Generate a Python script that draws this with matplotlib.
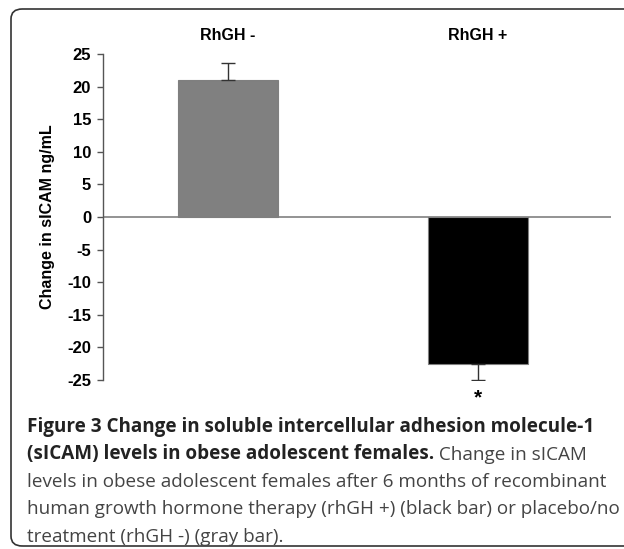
import matplotlib
matplotlib.use("Agg")
import matplotlib.pyplot as plt
from matplotlib.patches import FancyBboxPatch

# ---- data ----
groups = ["RhGH -", "RhGH +"]
values = [21.0, -22.6]
errors = [2.6, 2.4]
bar_colors = ["#808080", "#000000"]
yticks = [25, 20, 15, 10, 5, 0, -5, -10, -15, -20, -25]
ylabel = "Change in sICAM ng/mL"
signif = ["", "*"]

W, H = 624, 549
fig = plt.figure(figsize=(W / 100, H / 100), dpi=100)

# frame (rounded, open on the right)
frame = FancyBboxPatch((11 / W, 1 - 546 / H), (700 - 11) / W, (546 - 9) / H,
                       boxstyle="round,pad=0,rounding_size=0.018",
                       transform=fig.transFigure, fill=False,
                       edgecolor="#333333", linewidth=1.2, clip_on=False)
fig.patches.append(frame)

ax_l, ax_r, ax_t, ax_b = 103, 611, 54, 380
ax = fig.add_axes([ax_l / W, 1 - ax_b / H, (ax_r - ax_l) / W, (ax_b - ax_t) / H])
ax.set_facecolor("none")

x = list(range(len(groups)))
ax.bar(x, values, width=0.4, color=bar_colors, edgecolor="#7f7f7f", linewidth=0.8, zorder=2)
for xi, v, e in zip(x, values, errors):
    yerr = [[0], [e]] if v >= 0 else [[e], [0]]
    ax.errorbar([xi], [v], yerr=yerr, fmt="none", ecolor="#333333",
                elinewidth=1.0, capsize=4.7, capthick=1.0, zorder=3)

ax.axhline(0, color="#808080", linewidth=1.2, zorder=1)
ax.set_xlim(-0.5, 1.532)
ax.set_ylim(-25, 25)
ax.set_yticks(yticks)
ax.set_yticklabels([str(t) for t in yticks], fontfamily="Liberation Sans",
                   fontweight="bold", fontsize=12)
ax.set_xticks([])
for s in ["top", "right", "bottom"]:
    ax.spines[s].set_visible(False)
ax.spines["left"].set_color("#555555")
ax.spines["left"].set_linewidth(1.0)
ax.tick_params(axis="y", length=4, width=1.0, color="#555555", pad=4.5)

ax.set_ylabel(ylabel, fontfamily="Liberation Sans", fontweight="bold",
              fontsize=11.5, labelpad=9)

# group labels above
for xi, g in zip(x, groups):
    ax.text(xi, 1.058, g, transform=ax.get_xaxis_transform(), ha="center", va="center",
            fontfamily="Liberation Sans", fontweight="bold", fontsize=11.5)

# significance marks
for xi, v, e, s in zip(x, values, errors, signif):
    if s:
        ax.annotate(s, (xi, v - e), xytext=(0, -13), textcoords="offset points",
                    ha="center", va="center", fontfamily="Liberation Sans",
                    fontweight="bold", fontsize=15)

# caption
cap_font = "Open Sans"
cap_size = 13.6
lines = [
    [("Figure 3 Change in soluble intercellular adhesion molecule-1", "bold")],
    [("(sICAM) levels in obese adolescent females.", "bold"), (" Change in sICAM", "normal")],
    [("levels in obese adolescent females after 6 months of recombinant", "normal")],
    [("human growth hormone therapy (rhGH +) (black bar) or placebo/no", "normal")],
    [("treatment (rhGH -) (gray bar).", "normal")],
]
line_y = [427, 454.5, 482, 509.5, 537]
fig.canvas.draw()
renderer = fig.canvas.get_renderer()
for segs, yy in zip(lines, line_y):
    xcur = 27
    for txt, wt in segs:
        col = "#222222" if wt == "bold" else "#444444"
        t = fig.text(xcur / W, 1 - yy / H, txt, fontfamily=cap_font, fontweight=wt,
                     fontsize=cap_size, color=col, ha="left", va="center")
        bb = t.get_window_extent(renderer=renderer)
        xcur += bb.width

fig.savefig("out.png", dpi=100)
